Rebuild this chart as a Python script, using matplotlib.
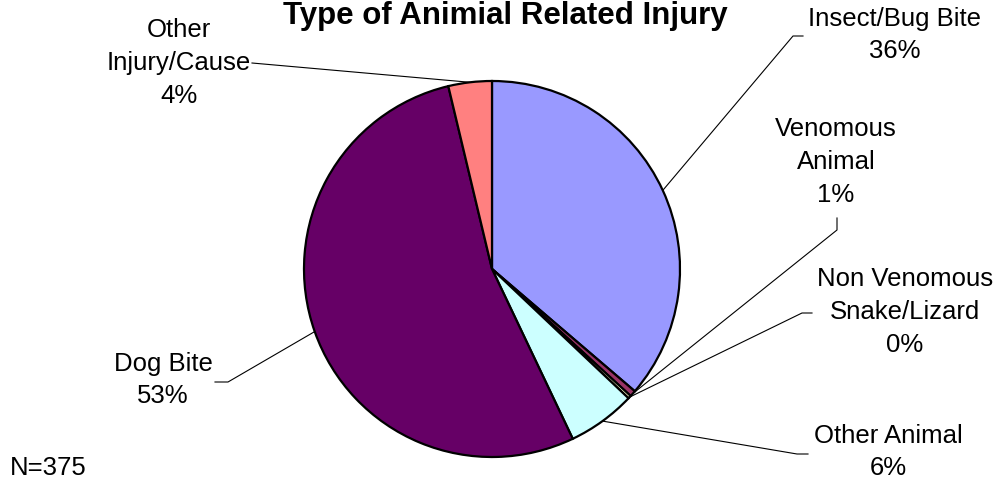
import matplotlib.pyplot as plt
import numpy as np

plt.rcParams['font.family'] = ['Liberation Sans', 'DejaVu Sans']

# data (counts, N=375), clockwise from 12 o'clock
categories = ['Insect/Bug Bite', 'Venomous\nAnimal', 'Non Venomous\nSnake/Lizard',
              'Other Animal', 'Dog Bite', 'Other\nInjury/Cause']
counts = [136, 2, 1, 22, 200, 14]
colors = ['#9999FF', '#993366', '#FFFFCC', '#CCFFFF', '#660066', '#FF8080']

W, H = 995, 479
fig = plt.figure(figsize=(W / 100, H / 100), dpi=100)
ax = fig.add_axes([0, 0, 1, 1])


def py(y):
    # pixel row -> data y
    return H - y


cx, cy, r = 492, py(269), 188
wedges, _ = ax.pie(counts, colors=colors, startangle=90, counterclock=False,
                   center=(cx, cy), radius=r, frame=True,
                   wedgeprops=dict(edgecolor='black', linewidth=1.6))
ax.set_xlim(0, W)
ax.set_ylim(0, H)
ax.axis('off')

total = sum(counts)
pcts = ['{:.0f}%'.format(100 * c / total) for c in counts]

# label placement: (text x, text y center, elbow, line end) in pixels
label_pos = [
    (895, 35, (793, 36), (803, 36)),
    (836, 162, (837, 230), (837, 218)),
    (905, 312, (802, 313), (812, 313)),
    (888, 452, (797, 454), (808, 454)),
    (163, 380, (228, 382), (215, 382)),
    (179, 63, (252, 63), (252, 63)),
]

for w, cat, p, (tx, ty, elbow, end) in zip(wedges, categories, pcts, label_pos):
    ang = np.deg2rad((w.theta1 + w.theta2) / 2)
    ax0 = cx + r * np.cos(ang)
    ay0 = cy + r * np.sin(ang)
    ax.plot([ax0, elbow[0], end[0]], [ay0, py(elbow[1]), py(end[1])],
            color='black', lw=0.8, zorder=0)
    ax.text(tx, py(ty), cat + '\n' + p, ha='center', va='center',
            fontsize=18.5, linespacing=1.45)

ax.text(505, py(1), 'Type of Animial Related Injury', ha='center', va='top',
        fontsize=22.5, fontweight='bold')
ax.text(10, py(468), 'N=375', ha='left', va='center', fontsize=18.5)

fig.savefig('out.png', dpi=100)
